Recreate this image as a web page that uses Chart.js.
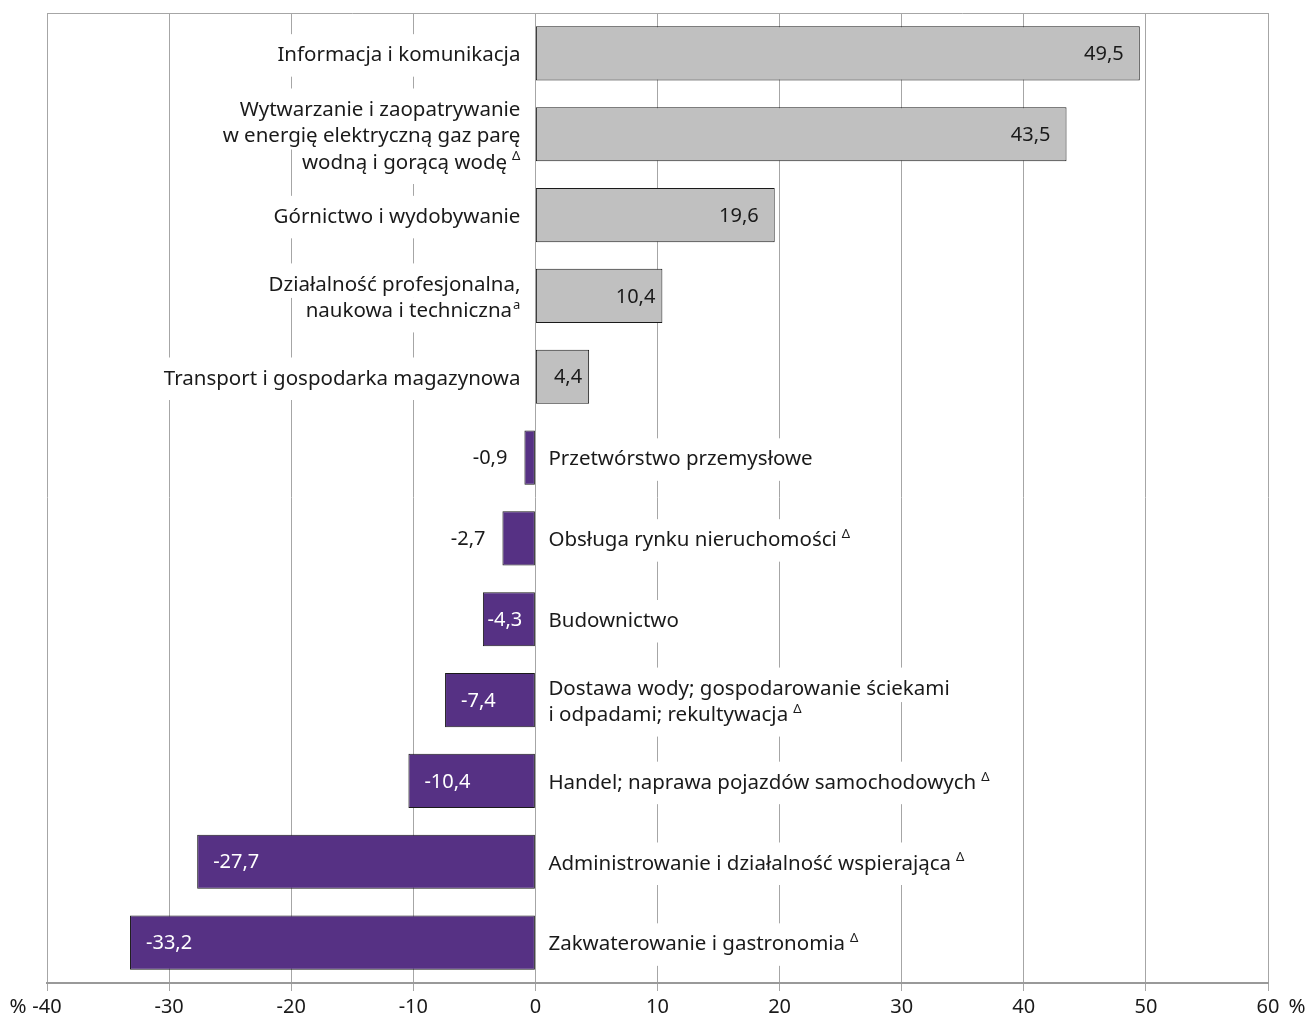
<!DOCTYPE html>
<html>
<head>
<meta charset="utf-8">
<script src="https://cdn.jsdelivr.net/npm/chart.js@4/dist/chart.umd.min.js"></script>
<style>
  html, body { margin: 0; padding: 0; background: #fff; }
  #wrap { width: 1309px; height: 1018px; }
</style>
</head>
<body>
<div id="wrap"><canvas id="chart"></canvas></div>
<script>
// category labels, one entry per line
var categories = [
  ['Informacja i komunikacja'],
  ['Wytwarzanie i zaopatrywanie', 'w energię elektryczną gaz parę', 'wodną i gorącą wodę'],
  ['Górnictwo i wydobywanie'],
  ['Działalność profesjonalna,', 'naukowa i techniczna'],
  ['Transport i gospodarka magazynowa'],
  ['Przetwórstwo przemysłowe'],
  ['Obsługa rynku nieruchomości'],
  ['Budownictwo'],
  ['Dostawa wody; gospodarowanie ściekami', 'i odpadami; rekultywacja'],
  ['Handel; naprawa pojazdów samochodowych'],
  ['Administrowanie i działalność wspierająca'],
  ['Zakwaterowanie i gastronomia']
];
var footnotes = ['', 'Δ', '', 'a', '', '', 'Δ', '', 'Δ', 'Δ', 'Δ', 'Δ'];
var values = [49.5, 43.5, 19.6, 10.4, 4.4, -0.9, -2.7, -4.3, -7.4, -10.4, -27.7, -33.2];
var xMin = -40, xMax = 60, xStep = 10;
var unit = '%';

var FONT = '20.5px "Noto Sans"';
var VALFONT = '20px "Noto Sans"';
var SUPFONT = '13px "Noto Sans"';
var TEXT = '#1a1a1a';
var GRID = '#a6a6a6';
var POS_COLOR = '#c0c0c0';
var NEG_COLOR = '#563184';

function fmt(v) { return v.toFixed(1).replace('.', ','); }

var labelPlugin = {
  id: 'rowLabels',
  afterDatasetsDraw: function(chart) {
    var ctx = chart.ctx, xs = chart.scales.x, area = chart.chartArea;
    var bars = chart.getDatasetMeta(0).data;
    var zero = xs.getPixelForValue(0);
    var lh = 26.5;
    var items = [];

    ctx.save();
    // top frame line
    ctx.strokeStyle = GRID; ctx.lineWidth = 1;
    ctx.beginPath();
    ctx.moveTo(area.left, Math.round(area.top) + 0.5);
    ctx.lineTo(area.right, Math.round(area.top) + 0.5);
    ctx.stroke();

    bars.forEach(function(bar, i) {
      var lines = categories[i], pos = values[i] >= 0;
      var y0 = bar.y + 2 - (lines.length - 1) * lh / 2;
      lines.forEach(function(line, j) {
        var last = j === lines.length - 1;
        var sup = last ? footnotes[i] : '';
        ctx.font = FONT;
        var w = ctx.measureText(line).width, sw = 0, gap = 0;
        if (sup) {
          ctx.font = SUPFONT;
          sw = ctx.measureText(sup).width;
          gap = sup === 'a' ? 1 : 5;
        }
        var total = w + gap + sw;
        var left = pos ? zero - 15 - total : zero + 13;
        var y = y0 + j * lh;
        var top = y - lh / 2 - (j === 0 ? 8 : 0);
        var bottom = y + lh / 2 + (last ? 8 : 0);
        ctx.fillStyle = '#fff';
        ctx.fillRect(left - 5, top, total + 10, bottom - top);
        items.push({ text: line, sup: sup, x: left, y: y, w: w, gap: gap });
      });
    });

    ctx.textBaseline = 'middle';
    ctx.textAlign = 'left';
    ctx.fillStyle = TEXT;
    items.forEach(function(it) {
      ctx.font = FONT;
      ctx.fillText(it.text, it.x, it.y);
      if (it.sup) {
        ctx.font = SUPFONT;
        ctx.fillText(it.sup, it.x + it.w + it.gap, it.y - 6);
      }
    });

    // value labels
    bars.forEach(function(bar, i) {
      var v = values[i], t = fmt(v);
      ctx.font = VALFONT;
      var tw = ctx.measureText(t).width;
      var bw = Math.abs(bar.x - bar.base);
      var y = bar.y + 1;
      if (v >= 0) {
        var pad = bw > 150 ? 16 : 7;
        ctx.fillStyle = TEXT;
        ctx.textAlign = 'right';
        ctx.fillText(t, bar.x - pad, y);
      } else if (bw >= tw + 8) {
        ctx.fillStyle = '#fff';
        ctx.textAlign = 'left';
        ctx.fillText(t, bar.x + Math.min(16, (bw - tw) / 2 - 4), y);
      } else {
        ctx.fillStyle = TEXT;
        ctx.textAlign = 'right';
        ctx.fillText(t, bar.x - 17, y);
      }
    });

    // unit marks at both ends of the axis
    ctx.font = FONT;
    ctx.fillStyle = TEXT;
    ctx.textAlign = 'center';
    var ly = xs.top + 8 + 6 + 10.5;
    ctx.fillText(unit, 18, ly);
    ctx.fillText(unit, 1297, ly);
    ctx.restore();
  }
};

new Chart(document.getElementById('chart'), {
  type: 'bar',
  data: {
    labels: categories.map(function(c) { return c.join(' '); }),
    datasets: [{
      data: values,
      backgroundColor: values.map(function(v) { return v >= 0 ? POS_COLOR : NEG_COLOR; }),
      borderColor: '#1a1a1a',
      borderWidth: 1,
      borderSkipped: false,
      barPercentage: 1,
      categoryPercentage: 0.67
    }]
  },
  options: {
    indexAxis: 'y',
    responsive: true,
    maintainAspectRatio: false,
    animation: false,
    layout: { padding: { left: 47, right: 41, top: 13, bottom: 0 } },
    plugins: { legend: { display: false }, tooltip: { enabled: false } },
    scales: {
      x: {
        min: xMin, max: xMax,
        afterFit: function(scale) { scale.height = 35; },
        ticks: {
          stepSize: xStep,
          font: { family: 'Noto Sans', size: 20, lineHeight: 1.0 },
          color: TEXT,
          padding: 6,
          callback: function(v) { return String(v); }
        },
        grid: { color: GRID, lineWidth: 1, tickLength: 8, drawTicks: true },
        border: { color: '#999', width: 2 }
      },
      y: { display: false }
    }
  },
  plugins: [labelPlugin]
});
</script>
</body>
</html>
